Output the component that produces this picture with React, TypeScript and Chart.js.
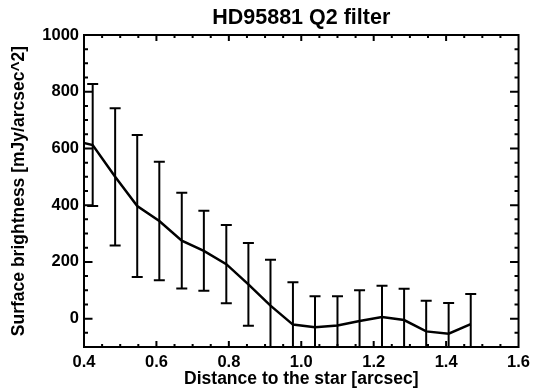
import React, { useEffect, useRef } from "react";
import { Chart, registerables } from "chart.js";

Chart.register(...registerables);

const TITLE = "HD95881 Q2 filter";
const X_LABEL = "Distance to the star [arcsec]";
const Y_LABEL = "Surface brightness [mJy/arcsec^2]";

// data (first point lies left of the plotted range and is clipped)
const distance = [0.363, 0.424, 0.486, 0.547, 0.608, 0.670, 0.731, 0.793, 0.854, 0.915, 0.977, 1.038, 1.100, 1.161, 1.223, 1.284, 1.345, 1.407, 1.468];
const brightness = [630, 612, 500, 397, 344, 275, 239, 192, 121, 46, -21, -30, -24, -8, 6, -5, -45, -53, -19];
const errors = [215, 215, 242, 250, 209, 169, 141, 138, 146, 162, 149, 109, 103, 108, 110, 110, 108, 108, 106];

const xMajorTicks = [0.4, 0.6, 0.8, 1.0, 1.2, 1.4, 1.6];
const yMajorTicks = [0, 200, 400, 600, 800, 1000];
const X_MIN = 0.4;
const X_MAX = 1.6;
const Y_MIN = -100;
const Y_MAX = 1000;
const X_MINOR_STEP = 0.05;
const Y_MINOR_STEP = 50;

const FONT = "'Liberation Sans', Arial, Helvetica, sans-serif";

const framePlugin = {
  id: "idlFrame",
  afterDatasetsDraw(chart: any) {
    const { ctx, chartArea: a, scales } = chart;
    const x = scales.x;
    const y = scales.y;
    // error bars
    ctx.save();
    ctx.beginPath();
    ctx.rect(a.left, a.top, a.right - a.left, a.bottom - a.top);
    ctx.clip();
    ctx.strokeStyle = "#000";
    ctx.lineWidth = 2;
    const cap = 5.5;
    for (let i = 0; i < distance.length; i++) {
      const px = x.getPixelForValue(distance[i]);
      const top = y.getPixelForValue(brightness[i] + errors[i]);
      const bot = y.getPixelForValue(brightness[i] - errors[i]);
      ctx.beginPath();
      ctx.moveTo(px, top);
      ctx.lineTo(px, bot);
      ctx.moveTo(px - cap, top);
      ctx.lineTo(px + cap, top);
      ctx.moveTo(px - cap, bot);
      ctx.lineTo(px + cap, bot);
      ctx.stroke();
    }
    ctx.restore();

    // frame box
    ctx.save();
    ctx.strokeStyle = "#000";
    ctx.lineWidth = 2;
    ctx.strokeRect(a.left, a.top, a.right - a.left, a.bottom - a.top);
    ctx.beginPath();
    // x ticks (top and bottom)
    const nx = Math.round((X_MAX - X_MIN) / X_MINOR_STEP);
    for (let k = 1; k < nx; k++) {
      const v = X_MIN + k * X_MINOR_STEP;
      const major = xMajorTicks.some((t) => Math.abs(t - v) < 1e-6);
      const len = major ? 6 : 3;
      const px = x.getPixelForValue(v);
      ctx.moveTo(px, a.bottom);
      ctx.lineTo(px, a.bottom - len);
      ctx.moveTo(px, a.top);
      ctx.lineTo(px, a.top + len);
    }
    // y ticks (left and right)
    const ny = Math.round((Y_MAX - Y_MIN) / Y_MINOR_STEP);
    for (let k = 1; k < ny; k++) {
      const v = Y_MIN + k * Y_MINOR_STEP;
      const major = yMajorTicks.some((t) => Math.abs(t - v) < 1e-6);
      const len = major ? 8.5 : 4;
      const py = y.getPixelForValue(v);
      ctx.moveTo(a.left, py);
      ctx.lineTo(a.left + len, py);
      ctx.moveTo(a.right, py);
      ctx.lineTo(a.right - len, py);
    }
    ctx.stroke();
    ctx.restore();
  },
};

export default function App() {
  const canvasRef = useRef<HTMLCanvasElement | null>(null);

  useEffect(() => {
    const canvas = canvasRef.current;
    if (!canvas) return;
    const chart = new Chart(canvas, {
      type: "line",
      data: {
        datasets: [
          {
            data: distance.map((d, i) => ({ x: d, y: brightness[i] })),
            borderColor: "#000",
            borderWidth: 2.5,
            pointRadius: 0,
            tension: 0,
            fill: false,
            clip: 0,
          } as any,
        ],
      },
      options: {
        animation: false,
        responsive: false,
        maintainAspectRatio: false,
        layout: { padding: { left: 0, right: 16, top: 0, bottom: 0 } },
        plugins: {
          legend: { display: false },
          tooltip: { enabled: false },
          title: {
            display: true,
            fullSize: false,
            text: TITLE,
            color: "#000",
            font: { family: FONT, size: 21.5, weight: "bold" },
            padding: { top: 5.6, bottom: 3.6 },
          },
        },
        scales: {
          x: {
            type: "linear",
            min: X_MIN,
            max: X_MAX,
            grid: { display: false, drawTicks: false },
            border: { display: false },
            afterBuildTicks: (scale: any) => {
              scale.ticks = xMajorTicks.map((v) => ({ value: v }));
            },
            afterFit: (scale: any) => {
              scale.height = 44;
            },
            ticks: {
              autoSkip: false,
              maxRotation: 0,
              minRotation: 0,
              padding: 6,
              color: "#000",
              font: { family: FONT, size: 16.5, weight: "bold" },
              callback: (v: any) => Number(v).toFixed(1),
            },
            title: {
              display: true,
              text: X_LABEL,
              color: "#000",
              font: { family: FONT, size: 17.5, weight: "bold" },
              padding: { top: 0, bottom: 1.6 },
            },
          },
          y: {
            type: "linear",
            min: Y_MIN,
            max: Y_MAX,
            grid: { display: false, drawTicks: false },
            border: { display: false },
            afterBuildTicks: (scale: any) => {
              scale.ticks = yMajorTicks.map((v) => ({ value: v }));
            },
            afterFit: (scale: any) => {
              scale.width = 84;
            },
            ticks: {
              autoSkip: false,
              padding: 5,
              color: "#000",
              font: { family: FONT, size: 16.5, weight: "bold" },
              callback: (v: any) => String(v),
            },
            title: {
              display: true,
              text: Y_LABEL,
              color: "#000",
              font: { family: FONT, size: 17.5, weight: "bold" },
              padding: { top: 8.4, bottom: 0 },
            },
          },
        },
      },
      plugins: [framePlugin],
    });
    return () => chart.destroy();
  }, []);

  return (
    <div style={{ position: "fixed", left: 0, top: 0, width: 536, height: 391, background: "#fff" }}>
      <canvas ref={canvasRef} width={536} height={391} style={{ width: 536, height: 391, display: "block" }} />
    </div>
  );
}
